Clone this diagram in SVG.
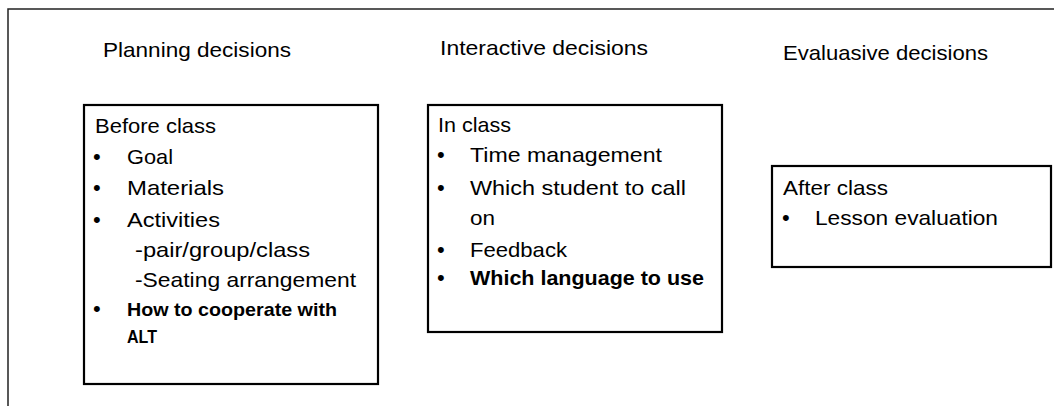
<svg xmlns="http://www.w3.org/2000/svg" width="1054" height="406" viewBox="0 0 1054 406">
<style>
.t{font-family:"Liberation Sans",Arial,sans-serif;font-size:21px;fill:#000}
.b{font-weight:bold}
.s{font-size:19px}
.d{font-family:"Liberation Sans",Arial,sans-serif;font-size:22px;fill:#000}
.box{fill:#fff;stroke:#000;stroke-width:2.2}
.frame{fill:none;stroke:#222;stroke-width:1.5}
</style>
<rect width="1054" height="406" fill="#fff"/>
<g id="frame"><path class="frame" d="M8,406 V9 H1054"/></g>
<g id="headings">
<text class="t" x="103" y="57" textLength="188" lengthAdjust="spacingAndGlyphs">Planning decisions</text>
<text class="t" x="440" y="55" textLength="208" lengthAdjust="spacingAndGlyphs">Interactive decisions</text>
<text class="t" x="783" y="60" textLength="205" lengthAdjust="spacingAndGlyphs">Evaluasive decisions</text>
</g>
<g id="planning">
<rect class="box" x="84" y="105" width="294" height="279"/>
<text class="t" x="95" y="133" textLength="121" lengthAdjust="spacingAndGlyphs">Before class</text>
<text class="d" x="93" y="164">•</text><text class="t" x="127" y="164" textLength="46" lengthAdjust="spacingAndGlyphs">Goal</text>
<text class="d" x="93" y="195">•</text><text class="t" x="127" y="195" textLength="97" lengthAdjust="spacingAndGlyphs">Materials</text>
<text class="d" x="93" y="227">•</text><text class="t" x="127" y="227" textLength="93" lengthAdjust="spacingAndGlyphs">Activities</text>
<text class="t" x="135" y="257" textLength="175" lengthAdjust="spacingAndGlyphs">-pair/group/class</text>
<text class="t" x="135" y="287" textLength="221" lengthAdjust="spacingAndGlyphs">-Seating arrangement</text>
<text class="d" x="93" y="316">•</text><text class="t b s" x="127" y="316" textLength="210" lengthAdjust="spacingAndGlyphs">How to cooperate with</text>
<text class="t b s" x="127" y="343" textLength="30" lengthAdjust="spacingAndGlyphs">ALT</text>
</g>
<g id="interactive">
<rect class="box" x="428" y="105" width="294" height="227"/>
<text class="t" x="438" y="132" textLength="73" lengthAdjust="spacingAndGlyphs">In class</text>
<text class="d" x="437" y="162">•</text><text class="t" x="470" y="162" textLength="192" lengthAdjust="spacingAndGlyphs">Time management</text>
<text class="d" x="437" y="195">•</text><text class="t" x="470" y="195" textLength="216" lengthAdjust="spacingAndGlyphs">Which student to call</text>
<text class="t" x="470" y="225" textLength="25" lengthAdjust="spacingAndGlyphs">on</text>
<text class="d" x="437" y="257">•</text><text class="t" x="470" y="257" textLength="97" lengthAdjust="spacingAndGlyphs">Feedback</text>
<text class="d" x="437" y="285">•</text><text class="t b" x="470" y="285" textLength="234" lengthAdjust="spacingAndGlyphs">Which language to use</text>
</g>
<g id="evaluative">
<rect class="box" x="772" y="166" width="279" height="101"/>
<text class="t" x="783" y="195" textLength="105" lengthAdjust="spacingAndGlyphs">After class</text>
<text class="d" x="782" y="225">•</text><text class="t" x="815" y="225" textLength="183" lengthAdjust="spacingAndGlyphs">Lesson evaluation</text>
</g>
<g id="connectors"/>
</svg>
